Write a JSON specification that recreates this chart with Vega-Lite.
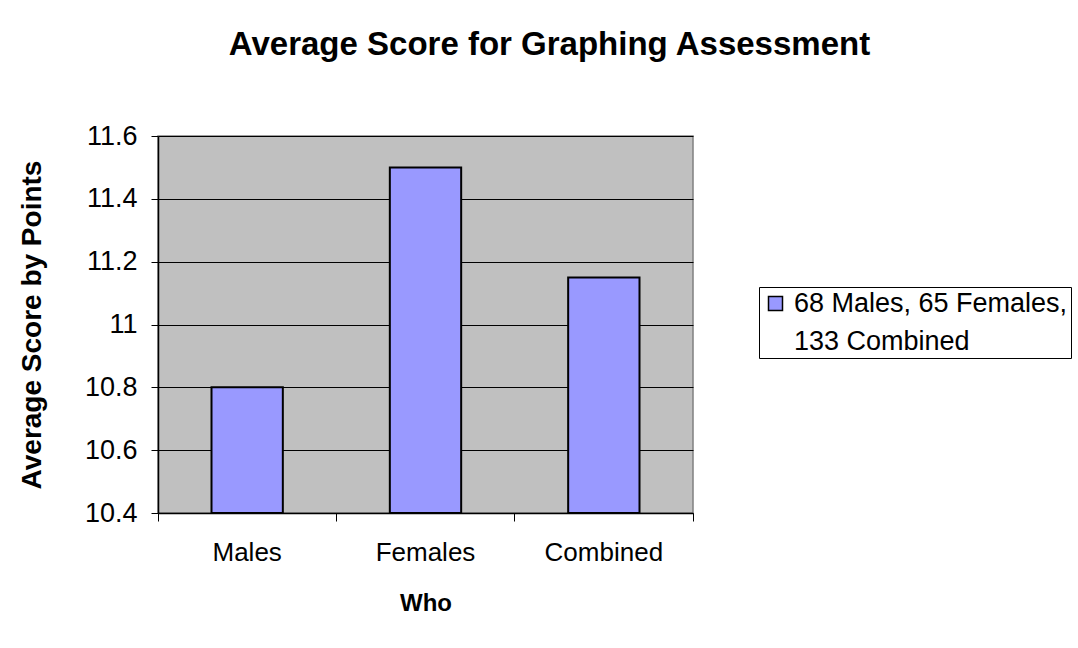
{
  "$schema": "https://vega.github.io/schema/vega-lite/v6.json",
  "width": 535,
  "height": 377,
  "autosize": {"type": "none"},
  "padding": {"left": 158, "top": 136, "right": 385, "bottom": 135},
  "background": "white",
  "config": {
    "font": "Liberation Sans",
    "view": {"fill": "#C0C0C0", "stroke": "#808080", "strokeWidth": 1.5}
  },
  "title": {
    "text": "Average Score for Graphing Assessment",
    "font": "Liberation Sans",
    "fontSize": 33,
    "fontWeight": "bold",
    "color": "black",
    "anchor": "middle",
    "dx": 124,
    "baseline": "alphabetic",
    "offset": 34
  },
  "data": {
    "values": [
      {"who": "Males", "score": 10.8, "series": "68 Males, 65 Females,\n133 Combined"},
      {"who": "Females", "score": 11.5, "series": "68 Males, 65 Females,\n133 Combined"},
      {"who": "Combined", "score": 11.15, "series": "68 Males, 65 Females,\n133 Combined"}
    ]
  },
  "mark": {"type": "bar", "stroke": "black", "strokeWidth": 2, "width": {"band": 0.4}},
  "encoding": {
    "x": {
      "field": "who",
      "type": "nominal",
      "sort": ["Males", "Females", "Combined"],
      "scale": {"paddingInner": 0, "paddingOuter": 0},
      "axis": {
        "title": "Who",
        "titleFont": "Liberation Sans",
        "titleFontSize": 24,
        "titleFontWeight": "bold",
        "titleColor": "black",
        "titlePadding": 26,
        "labelAngle": 0,
        "labelFontSize": 26,
        "labelColor": "black",
        "labelPadding": 18,
        "bandPosition": 1,
        "tickExtra": true,
        "tickColor": "black",
        "tickSize": 8,
        "tickWidth": 1,
        "domainColor": "black",
        "domainWidth": 1.5,
        "grid": false
      }
    },
    "y": {
      "field": "score",
      "type": "quantitative",
      "scale": {"domain": [10.4, 11.6], "zero": false, "nice": false},
      "axis": {
        "title": "Average Score by Points",
        "titleFont": "Liberation Sans",
        "titleFontSize": 28,
        "titleFontWeight": "bold",
        "titleColor": "black",
        "titlePadding": 38,
        "values": [10.4, 10.6, 10.8, 11, 11.2, 11.4, 11.6],
        "format": ".1~f",
        "labelFontSize": 27,
        "labelColor": "black",
        "labelPadding": 14,
        "tickColor": "black",
        "tickSize": 7,
        "tickWidth": 1,
        "domainColor": "black",
        "domainWidth": 1.5,
        "grid": true,
        "gridColor": "black",
        "gridWidth": 1,
        "gridOpacity": 1
      }
    },
    "y2": {"datum": 10.4},
    "color": {
      "field": "series",
      "type": "nominal",
      "scale": {"range": ["#9999FF"]},
      "legend": {
        "title": null,
        "orient": "none",
        "legendX": 601,
        "legendY": 151,
        "strokeColor": "black",
        "fillColor": "white",
        "padding": 3,
        "symbolType": "square",
        "symbolSize": 196,
        "symbolStrokeColor": "black",
        "symbolStrokeWidth": 1.5,
        "symbolOpacity": 1,
        "labelFontSize": 27,
        "labelColor": "black",
        "labelLimit": 400,
        "labelOffset": 5,
        "encode": {"labels": {"update": {"lineBreak": {"value": "\n"}, "lineHeight": {"value": 38}}}}
      }
    }
  }
}
